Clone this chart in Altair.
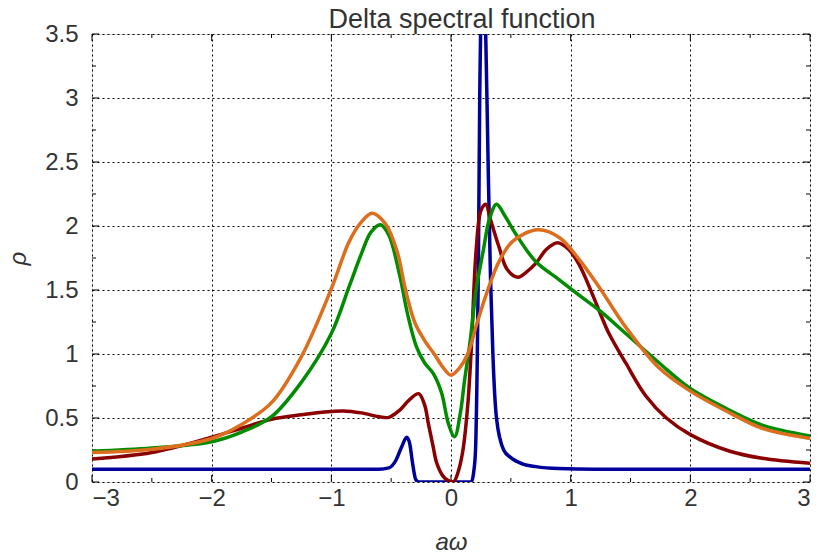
import altair as alt
import pandas as pd

# ---- data ----
blue_x = [-3.0, -2.0, -1.0, -0.6, -0.52, -0.46, -0.41, -0.37, -0.345, -0.32, -0.295, -0.27,
          0.17, 0.19, 0.205, 0.22, 0.23, 0.24, 0.265, 0.29, 0.31, 0.33, 0.35, 0.38, 0.44,
          0.5, 0.6, 0.71, 0.9, 1.2, 2.0, 3.0]
blue_y = [0.1, 0.1, 0.1, 0.1, 0.11, 0.17, 0.28, 0.35, 0.3, 0.14, 0.02, 0.0,
          0.0, 0.08, 0.25, 1.0, 1.8, 3.0, 4.0, 3.5, 2.5, 1.6, 1.0, 0.5, 0.25,
          0.19, 0.14, 0.12, 0.105, 0.1, 0.1, 0.1]

red_x = [-3.0, -2.5, -2.0, -1.75, -1.5, -1.25, -1.0, -0.9, -0.75, -0.6, -0.52, -0.43, -0.35,
         -0.27, -0.22, -0.19, -0.15, -0.12, -0.07, -0.03, 0.02, 0.06, 0.1, 0.14, 0.17, 0.21,
         0.25, 0.29, 0.33, 0.4, 0.47, 0.56, 0.63, 0.71, 0.8, 0.89, 0.98, 1.07, 1.18, 1.25,
         1.32, 1.46, 1.63, 1.8, 2.0, 2.33, 2.6, 3.0]
red_y = [0.18, 0.23, 0.35, 0.42, 0.49, 0.525, 0.55, 0.555, 0.54, 0.51, 0.505, 0.56, 0.64,
         0.69, 0.6, 0.46, 0.28, 0.15, 0.05, 0.015, 0.0, 0.08, 0.25, 0.6, 1.05, 1.81,
         2.12, 2.17, 2.05, 1.84, 1.66, 1.6, 1.64, 1.71, 1.82, 1.87, 1.82, 1.7, 1.47, 1.31,
         1.16, 0.93, 0.67, 0.5, 0.37, 0.24, 0.185, 0.146]

green_x = [-3.0, -2.5, -2.0, -1.75, -1.5, -1.25, -1.0, -0.85, -0.75, -0.67, -0.59, -0.52,
           -0.43, -0.36, -0.29, -0.22, -0.15, -0.08, -0.02, 0.03, 0.08, 0.11, 0.16, 0.21,
           0.27, 0.32, 0.38, 0.45, 0.54, 0.71, 0.905, 1.07, 1.24, 1.46, 1.74, 2.0, 2.33,
           2.6, 3.0]
green_y = [0.24, 0.265, 0.315, 0.39, 0.51, 0.78, 1.16, 1.53, 1.78, 1.95, 2.01, 1.93,
           1.62, 1.3, 1.06, 0.93, 0.85, 0.7, 0.45, 0.354, 0.55, 0.77, 1.1, 1.5,
           1.81, 2.05, 2.17, 2.08, 1.94, 1.72, 1.58, 1.46, 1.34, 1.16, 0.93, 0.73, 0.56,
           0.445, 0.36]

orange_x = [-3.0, -2.5, -2.0, -1.75, -1.5, -1.25, -1.0, -0.85, -0.75, -0.66, -0.55, -0.45,
            -0.38, -0.3, -0.21, -0.14, -0.07, 0.0, 0.07, 0.14, 0.22, 0.3, 0.4, 0.515, 0.725,
            0.905, 1.07, 1.24, 1.46, 1.74, 2.0, 2.33, 2.6, 3.0]
orange_y = [0.23, 0.255, 0.34, 0.45, 0.62, 0.98, 1.51, 1.88, 2.03, 2.1, 2.02, 1.8,
            1.5, 1.24, 1.09, 1.0, 0.9, 0.835, 0.89, 1.0, 1.25, 1.48, 1.72, 1.88, 1.97,
            1.91, 1.74, 1.52, 1.21, 0.89, 0.71, 0.54, 0.42, 0.34]

series_names = ["blue", "red", "green", "orange"]
series_colors = ["#00009b", "#8b0000", "#008b00", "#dc6e1e"]

x_major = [-3, -2, -1, 0, 1, 2, 3]
x_minor = [-2.5, -1.5, -0.5, 0.5, 1.5, 2.5]
y_major = [0, 0.5, 1, 1.5, 2, 2.5, 3, 3.5]
y_minor = [0.25, 0.75, 1.25, 1.75, 2.25, 2.75, 3.25]


def frame(name, xs, ys):
    return pd.DataFrame({"series": name, "x": xs, "y": ys, "order": list(range(len(xs)))})


W, H = 718, 448
FONT = "Liberation Sans"
TXT = "#333333"

x_axis = alt.Axis(values=x_major, grid=True, gridDash=[2, 3], gridColor="black",
                  gridOpacity=1, gridWidth=1, ticks=False, domain=False,
                  labelExpr="replace('' + datum.value, '-', '\u2212')",
                  labelFont=FONT, labelFontSize=24, labelColor=TXT, labelPadding=4,
                  title="a\u03c9", titleFont=FONT, titleFontSize=24, titleFontStyle="italic",
                  titleFontWeight="normal", titleColor=TXT, titlePadding=20)
y_axis = alt.Axis(values=y_major, grid=True, gridDash=[2, 3], gridColor="black",
                  gridOpacity=1, gridWidth=1, ticks=False, domain=False,
                  labelExpr="'' + datum.value",
                  labelFont=FONT, labelFontSize=24, labelColor=TXT, labelPadding=14,
                  title="\u03c1", titleFont=FONT, titleFontSize=24, titleFontStyle="italic",
                  titleFontWeight="normal", titleColor=TXT, titlePadding=14)

xs_scale = alt.Scale(domain=[-3, 3], nice=False, zero=False)
ys_scale = alt.Scale(domain=[0, 3.5], nice=False, zero=False)

X = alt.X("x:Q", scale=xs_scale, axis=x_axis)
Y = alt.Y("y:Q", scale=ys_scale, axis=y_axis)
C = alt.Color("series:N", scale=alt.Scale(domain=series_names, range=series_colors), legend=None)


def line(df, interp):
    return alt.Chart(df).mark_line(strokeWidth=3.5, clip=True, interpolate=interp).encode(
        x=X, y=Y, color=C, order="order:Q")


line_layers = [
    line(frame("blue", blue_x, blue_y), "monotone"),
    line(frame("red", red_x, red_y), "catmull-rom"),
    line(frame("green", green_x, green_y), "catmull-rom"),
    line(frame("orange", orange_x, orange_y), "catmull-rom"),
]


def xticks(vals, ln):
    d = pd.DataFrame({"x": vals})
    bottom = alt.Chart(d).mark_rule(color="black", strokeWidth=1).encode(
        x=X, y=alt.value(H), y2=alt.value(H - ln))
    top = alt.Chart(d).mark_rule(color="black", strokeWidth=1).encode(
        x=X, y=alt.value(0), y2=alt.value(ln))
    return [bottom, top]


def yticks(vals, ln):
    d = pd.DataFrame({"y": vals})
    left = alt.Chart(d).mark_rule(color="black", strokeWidth=1).encode(
        y=Y, x=alt.value(0), x2=alt.value(ln))
    right = alt.Chart(d).mark_rule(color="black", strokeWidth=1).encode(
        y=Y, x=alt.value(W), x2=alt.value(W - ln))
    return [left, right]


layers = xticks(x_major, 7) + xticks(x_minor, 4) + yticks(y_major, 7) + yticks(y_minor, 4) + line_layers

chart = alt.layer(*layers).properties(
    width=W, height=H,
    title=alt.TitleParams("Delta spectral function", font=FONT, fontSize=27,
                          fontWeight="normal", color=TXT, anchor="middle", offset=6,
                          dy=18, dx=11),
    autosize=alt.AutoSizeParams(type="none"),
    padding={"left": 92, "top": 34, "right": 9, "bottom": 74},
).configure_view(stroke="black", strokeWidth=1.8).configure(background="white")

chart.save("out.html", embed_options={"renderer": "svg", "actions": False})
